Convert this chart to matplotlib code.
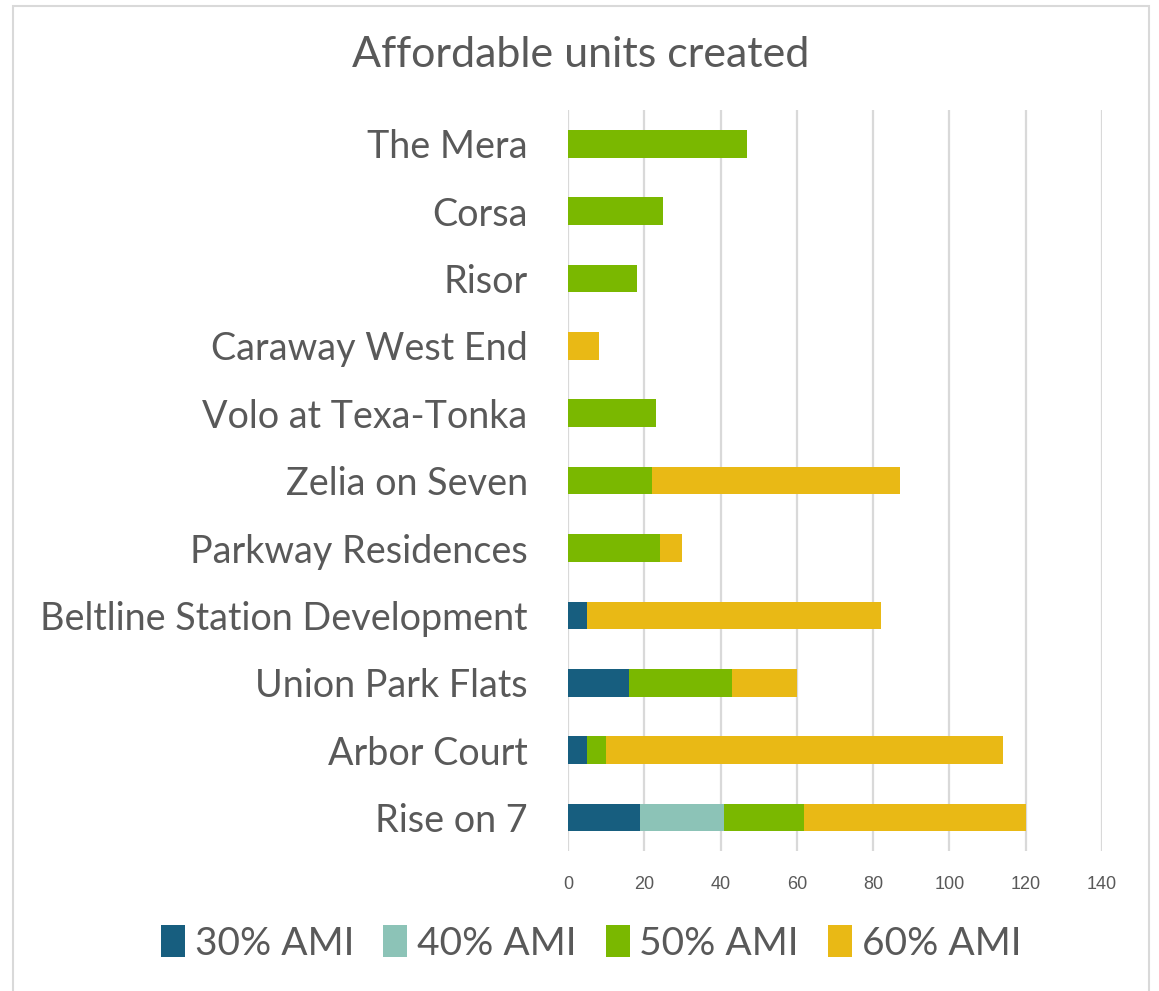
import numpy as np
import matplotlib
matplotlib.use("Agg")
import matplotlib.pyplot as plt
from matplotlib.patches import Rectangle, Patch

# data (top to bottom as shown)
projects = ["The Mera", "Corsa", "Risor", "Caraway West End", "Volo at Texa-Tonka",
            "Zelia on Seven", "Parkway Residences", "Beltline Station Development",
            "Union Park Flats", "Arbor Court", "Rise on 7"]
ami_30 = [0, 0, 0, 0, 0, 0, 0, 5, 16, 5, 19]
ami_40 = [0, 0, 0, 0, 0, 0, 0, 0, 0, 0, 22]
ami_50 = [47, 25, 18, 0, 23, 22, 24, 0, 27, 5, 21]
ami_60 = [0, 0, 0, 8, 0, 65, 6, 77, 17, 104, 58]

series_names = ["30% AMI", "40% AMI", "50% AMI", "60% AMI"]
colors = ["#175e7f", "#8cc3b7", "#7ab800", "#e9b915"]
text_grey = "#595959"

fig = plt.figure(figsize=(11.59, 9.91), dpi=100)
ax = fig.add_axes([0.4901, 0.141, 0.4607, 0.748])

y = np.arange(len(projects))[::-1]
left = np.zeros(len(projects))
for vals, col in zip([ami_30, ami_40, ami_50, ami_60], colors):
    vals = np.array(vals, dtype=float)
    ax.barh(y, vals, left=left, height=0.41, color=col, linewidth=0, zorder=3)
    left += vals

ax.set_xlim(0, 140)
ax.set_ylim(-0.5, len(projects) - 0.5)
ax.set_xticks(range(0, 141, 20))
ax.set_yticks(y)
ax.set_yticklabels(projects, fontsize=27.2, fontfamily="Lato", color=text_grey)
for lbl in ax.get_xticklabels():
    lbl.set_fontfamily("Liberation Sans")
ax.tick_params(axis="x", length=0, pad=18, labelsize=13, labelcolor=text_grey)
ax.tick_params(axis="y", length=0, pad=29)
ax.grid(axis="x", color="#d9d9d9", linewidth=1.6, zorder=0)
for s in ax.spines.values():
    s.set_visible(False)

fig.text(0.501, 0.945, "Affordable units created", ha="center", va="center",
         fontsize=31, fontfamily="Lato", color=text_grey)

handles = [Patch(facecolor=c, edgecolor="none") for c in colors]
fig.legend(handles, series_names, loc="center", bbox_to_anchor=(0.51, 0.048),
           ncol=4, frameon=False, prop={"family": "Lato", "size": 28},
           handlelength=0.62, handleheight=0.9, handletextpad=0.25, columnspacing=0.75,
           labelcolor=text_grey)

fig.patches.append(Rectangle((0.011, -0.01), 0.98, 1.004, transform=fig.transFigure,
                             fill=False, edgecolor="#d9d9d9", linewidth=1.5))

fig.savefig("out.png", dpi=100)
